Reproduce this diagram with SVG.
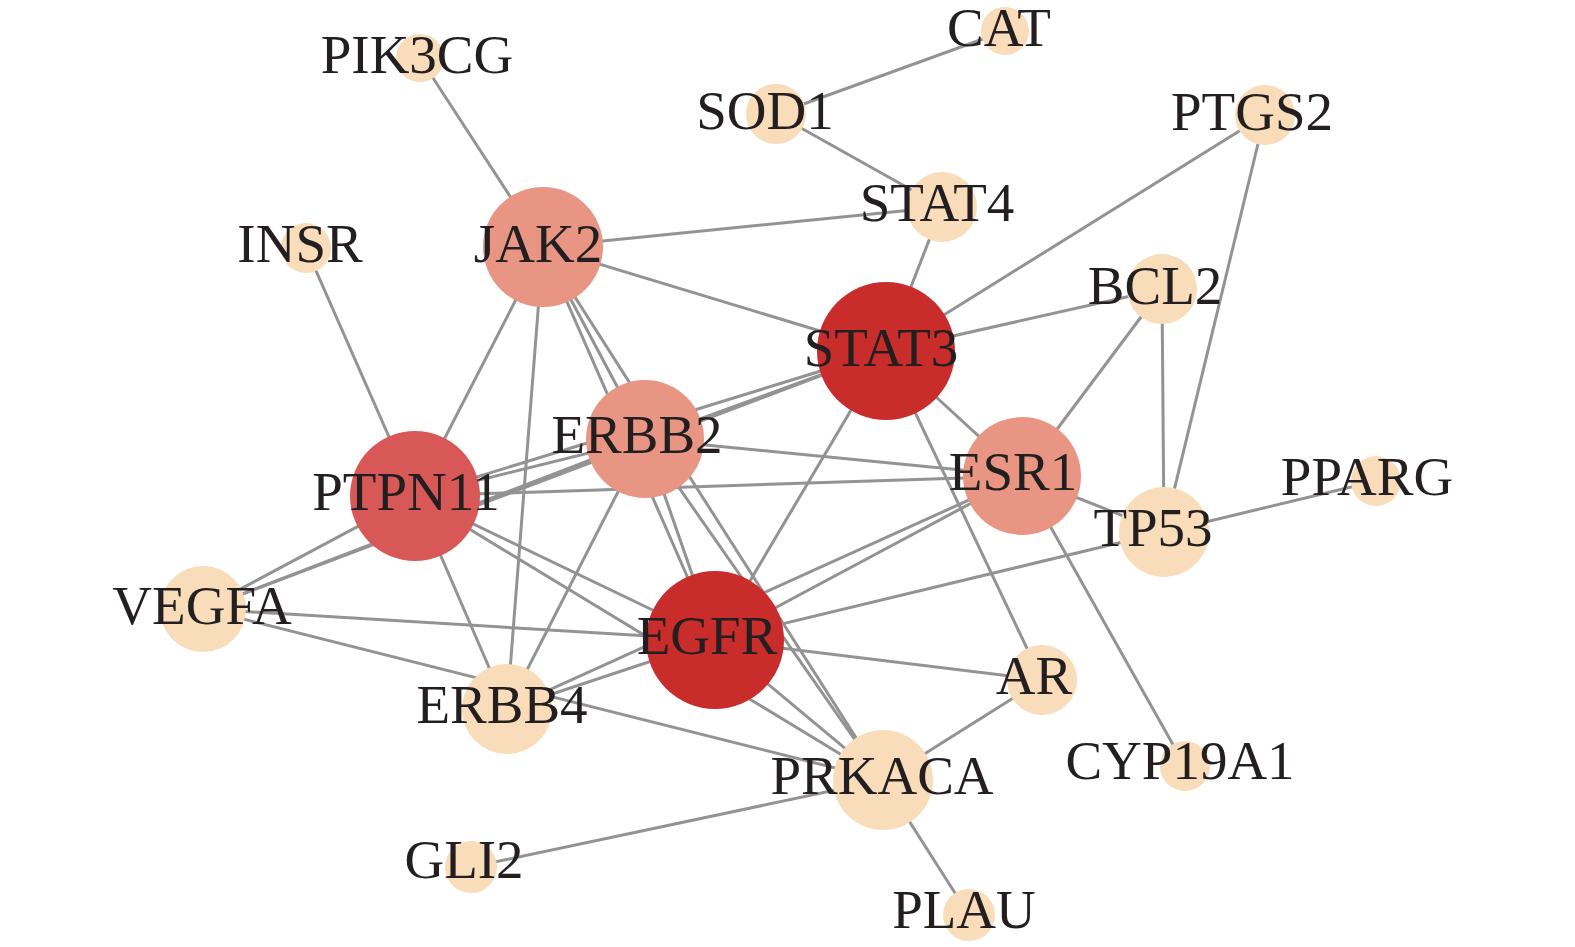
<svg xmlns="http://www.w3.org/2000/svg" width="1575" height="947" viewBox="0 0 1575 947">
<style>
.e{stroke:#939393;stroke-width:3;fill:none}
.n0{fill:#F9DCB9}
.n1{fill:#E99583}
.n2{fill:#D85858}
.n3{fill:#C92D2B}
text{font-family:"Liberation Serif","Times New Roman",serif;font-size:55px;fill:#231F20;text-anchor:middle}
</style>
<rect width="1575" height="947" fill="#FFFFFF"/>
<g id="edges">
<line class="e" x1="1005" y1="31" x2="776" y2="114"/>
<line class="e" x1="776" y1="114" x2="942" y2="207"/>
<line class="e" x1="420" y1="58" x2="543" y2="247"/>
<line class="e" x1="543" y1="247" x2="942" y2="207"/>
<line class="e" x1="942" y1="207" x2="886" y2="351"/>
<line class="e" x1="1265" y1="115" x2="886" y2="351"/>
<line class="e" x1="1265" y1="115" x2="1164" y2="532"/>
<line class="e" x1="543" y1="247" x2="886" y2="351"/>
<line class="e" x1="543" y1="247" x2="415" y2="496"/>
<line class="e" x1="543" y1="247" x2="507" y2="709"/>
<line class="e" x1="543" y1="247" x2="645" y2="439"/>
<line class="e" x1="543" y1="247" x2="715" y2="640"/>
<line class="e" x1="543" y1="247" x2="883" y2="780"/>
<line class="e" x1="306" y1="248" x2="415" y2="496"/>
<line class="e" x1="1162" y1="289" x2="886" y2="351"/>
<line class="e" x1="1162" y1="289" x2="1022" y2="476"/>
<line class="e" x1="1162" y1="289" x2="1164" y2="532"/>
<line class="e" x1="886" y1="351" x2="1022" y2="476"/>
<line class="e" x1="886" y1="351" x2="715" y2="640"/>
<line class="e" x1="886" y1="351" x2="1042" y2="680"/>
<line class="e" x1="886" y1="351" x2="415" y2="496"/>
<line class="e" x1="886" y1="351" x2="645" y2="439"/>
<line class="e" x1="886" y1="351" x2="203" y2="609"/>
<line class="e" x1="645" y1="439" x2="203" y2="609"/>
<line class="e" x1="645" y1="439" x2="415" y2="496"/>
<line class="e" x1="645" y1="439" x2="1022" y2="476"/>
<line class="e" x1="645" y1="439" x2="715" y2="640"/>
<line class="e" x1="645" y1="439" x2="883" y2="780"/>
<line class="e" x1="645" y1="439" x2="507" y2="709"/>
<line class="e" x1="415" y1="496" x2="1022" y2="476"/>
<line class="e" x1="1022" y1="476" x2="1164" y2="532"/>
<line class="e" x1="1022" y1="476" x2="715" y2="640"/>
<line class="e" x1="1022" y1="476" x2="507" y2="709"/>
<line class="e" x1="1022" y1="476" x2="1185" y2="766"/>
<line class="e" x1="1164" y1="532" x2="1376" y2="481"/>
<line class="e" x1="1164" y1="532" x2="715" y2="640"/>
<line class="e" x1="415" y1="496" x2="203" y2="609"/>
<line class="e" x1="415" y1="496" x2="715" y2="640"/>
<line class="e" x1="415" y1="496" x2="883" y2="780"/>
<line class="e" x1="415" y1="496" x2="507" y2="709"/>
<line class="e" x1="203" y1="609" x2="715" y2="640"/>
<line class="e" x1="203" y1="609" x2="883" y2="780"/>
<line class="e" x1="715" y1="640" x2="507" y2="709"/>
<line class="e" x1="715" y1="640" x2="1042" y2="680"/>
<line class="e" x1="715" y1="640" x2="883" y2="780"/>
<line class="e" x1="1042" y1="680" x2="883" y2="780"/>
<line class="e" x1="883" y1="780" x2="471" y2="867"/>
<line class="e" x1="883" y1="780" x2="969" y2="915"/>
</g>
<g id="node-CAT"><circle class="n0" cx="1005" cy="31" r="24"/><text x="999" y="46">CAT</text></g>
<g id="node-PIK3CG"><circle class="n0" cx="420" cy="58" r="24"/><text x="417" y="73">PIK3CG</text></g>
<g id="node-SOD1"><circle class="n0" cx="776" cy="114" r="30"/><text x="765" y="129">SOD1</text></g>
<g id="node-PTGS2"><circle class="n0" cx="1265" cy="115" r="30"/><text x="1252" y="130">PTGS2</text></g>
<g id="node-STAT4"><circle class="n0" cx="942" cy="207" r="35"/><text x="937" y="221">STAT4</text></g>
<g id="node-INSR"><circle class="n0" cx="306" cy="248" r="25"/><text x="300" y="262">INSR</text></g>
<g id="node-JAK2"><circle class="n1" cx="543" cy="247" r="60"/><text x="538" y="262">JAK2</text></g>
<g id="node-BCL2"><circle class="n0" cx="1162" cy="289" r="35"/><text x="1155" y="304">BCL2</text></g>
<g id="node-STAT3"><circle class="n3" cx="886" cy="351" r="69"/><text x="881" y="366">STAT3</text></g>
<g id="node-ERBB2"><circle class="n1" cx="645" cy="439" r="59"/><text x="637" y="453">ERBB2</text></g>
<g id="node-ESR1"><circle class="n1" cx="1022" cy="476" r="59"/><text x="1013" y="490">ESR1</text></g>
<g id="node-PPARG"><circle class="n0" cx="1376" cy="481" r="25"/><text x="1367" y="495">PPARG</text></g>
<g id="node-PTPN11"><circle class="n2" cx="415" cy="496" r="65"/><text x="406" y="510">PTPN11</text></g>
<g id="node-TP53"><circle class="n0" cx="1164" cy="532" r="45"/><text x="1153" y="546">TP53</text></g>
<g id="node-VEGFA"><circle class="n0" cx="203" cy="609" r="43"/><text x="202" y="624">VEGFA</text></g>
<g id="node-EGFR"><circle class="n3" cx="715" cy="640" r="69"/><text x="707" y="654">EGFR</text></g>
<g id="node-AR"><circle class="n0" cx="1042" cy="680" r="35"/><text x="1034" y="694">AR</text></g>
<g id="node-ERBB4"><circle class="n0" cx="507" cy="709" r="45"/><text x="502" y="723">ERBB4</text></g>
<g id="node-PRKACA"><circle class="n0" cx="883" cy="780" r="50"/><text x="882" y="794">PRKACA</text></g>
<g id="node-CYP19A1"><circle class="n0" cx="1185" cy="766" r="25"/><text x="1180" y="779">CYP19A1</text></g>
<g id="node-GLI2"><circle class="n0" cx="471" cy="867" r="26"/><text x="464" y="878">GLI2</text></g>
<g id="node-PLAU"><circle class="n0" cx="969" cy="915" r="26"/><text x="964" y="928">PLAU</text></g>
</svg>
